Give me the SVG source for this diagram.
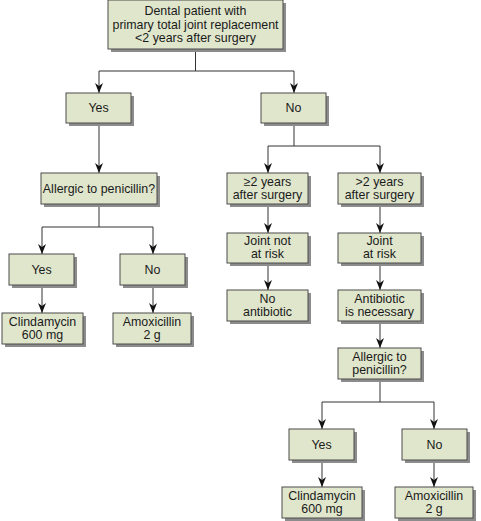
<svg xmlns="http://www.w3.org/2000/svg" width="481" height="521" viewBox="0 0 481 521">
<defs>
<style>
.box{fill:#e0e6cc;stroke:#4a4a4a;stroke-width:1}
.sh{fill:#8c8c8c}
text{font-family:"Liberation Sans",Arial,sans-serif;font-size:12.4px;fill:#1a1a1a;text-anchor:middle}
.ln{fill:none;stroke:#333;stroke-width:1}
</style>
<path id="ah" d="M-4,-10 L0,-7 L4,-10 L0,0 Z" fill="#111"/>
</defs>
<rect width="481" height="521" fill="#fff"/>

<g id="connectors">
<path class="ln" d="M195.5,49 V71 M99,71 H294 M99,71 V93 M294,71 V93"/>
<path class="ln" d="M99,123 V173"/>
<path class="ln" d="M99,204 V227 M42,227 H153 M42,227 V254 M153,227 V254"/>
<path class="ln" d="M42,285 V313 M153,285 V313"/>
<path class="ln" d="M294,123 V146 M268,146 H380 M268,146 V173 M380,146 V173"/>
<path class="ln" d="M268,204 V233 M380,204 V233 M268,263 V290 M380,263 V290 M380,321 V348"/>
<path class="ln" d="M380,379 V402 M322,402 H434 M322,402 V429 M434,402 V429 M322,460 V487 M434,460 V487"/>
<use href="#ah" x="99" y="93"/>
<use href="#ah" x="294" y="93"/>
<use href="#ah" x="99" y="173"/>
<use href="#ah" x="42" y="254"/>
<use href="#ah" x="153" y="254"/>
<use href="#ah" x="42" y="313"/>
<use href="#ah" x="153" y="313"/>
<use href="#ah" x="268" y="173"/>
<use href="#ah" x="380" y="173"/>
<use href="#ah" x="268" y="233"/>
<use href="#ah" x="380" y="233"/>
<use href="#ah" x="268" y="290"/>
<use href="#ah" x="380" y="290"/>
<use href="#ah" x="380" y="348"/>
<use href="#ah" x="322" y="429"/>
<use href="#ah" x="434" y="429"/>
<use href="#ah" x="322" y="487"/>
<use href="#ah" x="434" y="487"/>
</g>

<g id="start">
<rect class="sh" x="111" y="3" width="175" height="49"/>
<rect class="box" x="108" y="0" width="175" height="49"/>
<text x="195.5" y="15">Dental patient with</text>
<text x="195.5" y="28.5">primary total joint replacement</text>
<text x="195.5" y="42">&lt;2 years after surgery</text>
</g>

<g id="yes1">
<rect class="sh" x="69" y="96" width="65" height="30"/>
<rect class="box" x="66" y="93" width="65" height="30"/>
<text x="98.5" y="112">Yes</text>
</g>

<g id="no1">
<rect class="sh" x="264" y="96" width="65" height="30"/>
<rect class="box" x="261" y="93" width="65" height="30"/>
<text x="293.5" y="112">No</text>
</g>

<g id="allergic1">
<rect class="sh" x="44" y="176" width="116" height="31"/>
<rect class="box" x="41" y="173" width="116" height="31"/>
<text x="99" y="193">Allergic to penicillin?</text>
</g>

<g id="yes2">
<rect class="sh" x="12" y="257" width="65" height="31"/>
<rect class="box" x="9" y="254" width="65" height="31"/>
<text x="41.5" y="274">Yes</text>
</g>

<g id="no2">
<rect class="sh" x="123" y="257" width="65" height="31"/>
<rect class="box" x="120" y="254" width="65" height="31"/>
<text x="152.5" y="274">No</text>
</g>

<g id="clinda1">
<rect class="sh" x="5" y="316" width="81" height="31"/>
<rect class="box" x="2" y="313" width="81" height="31"/>
<text x="42.5" y="326">Clindamycin</text>
<text x="42.5" y="339">600 mg</text>
</g>

<g id="amox1">
<rect class="sh" x="116" y="316" width="78" height="31"/>
<rect class="box" x="113" y="313" width="78" height="31"/>
<text x="152" y="326">Amoxicillin</text>
<text x="152" y="339">2 g</text>
</g>

<g id="ge2years">
<rect class="sh" x="230" y="176" width="81" height="31"/>
<rect class="box" x="227" y="173" width="81" height="31"/>
<text x="267.5" y="185.5">≥2 years</text>
<text x="267.5" y="198.5">after surgery</text>
</g>

<g id="gt2years">
<rect class="sh" x="341" y="176" width="83" height="31"/>
<rect class="box" x="338" y="173" width="83" height="31"/>
<text x="379.5" y="185.5">&gt;2 years</text>
<text x="379.5" y="198.5">after surgery</text>
</g>

<g id="notatrisk">
<rect class="sh" x="230" y="236" width="81" height="30"/>
<rect class="box" x="227" y="233" width="81" height="30"/>
<text x="267.5" y="245">Joint not</text>
<text x="267.5" y="258">at risk</text>
</g>

<g id="atrisk">
<rect class="sh" x="341" y="236" width="83" height="30"/>
<rect class="box" x="338" y="233" width="83" height="30"/>
<text x="379.5" y="245">Joint</text>
<text x="379.5" y="258">at risk</text>
</g>

<g id="noantibiotic">
<rect class="sh" x="230" y="293" width="81" height="31"/>
<rect class="box" x="227" y="290" width="81" height="31"/>
<text x="267.5" y="302.5">No</text>
<text x="267.5" y="315.5">antibiotic</text>
</g>

<g id="necessary">
<rect class="sh" x="341" y="293" width="83" height="31"/>
<rect class="box" x="338" y="290" width="83" height="31"/>
<text x="379.5" y="302.5">Antibiotic</text>
<text x="379.5" y="315.5">is necessary</text>
</g>

<g id="allergic2">
<rect class="sh" x="341" y="351" width="83" height="31"/>
<rect class="box" x="338" y="348" width="83" height="31"/>
<text x="379.5" y="360.5">Allergic to</text>
<text x="379.5" y="373.5">penicillin?</text>
</g>

<g id="yes3">
<rect class="sh" x="292" y="432" width="65" height="31"/>
<rect class="box" x="289" y="429" width="65" height="31"/>
<text x="321.5" y="449">Yes</text>
</g>

<g id="no3">
<rect class="sh" x="405" y="432" width="65" height="31"/>
<rect class="box" x="402" y="429" width="65" height="31"/>
<text x="434.5" y="449">No</text>
</g>

<g id="clinda2">
<rect class="sh" x="285" y="490" width="80" height="31"/>
<rect class="box" x="282" y="487" width="80" height="31"/>
<text x="322" y="499.5">Clindamycin</text>
<text x="322" y="512.5">600 mg</text>
</g>

<g id="amox2">
<rect class="sh" x="398" y="490" width="78" height="31"/>
<rect class="box" x="395" y="487" width="78" height="31"/>
<text x="434" y="499.5">Amoxicillin</text>
<text x="434" y="512.5">2 g</text>
</g>
</svg>
